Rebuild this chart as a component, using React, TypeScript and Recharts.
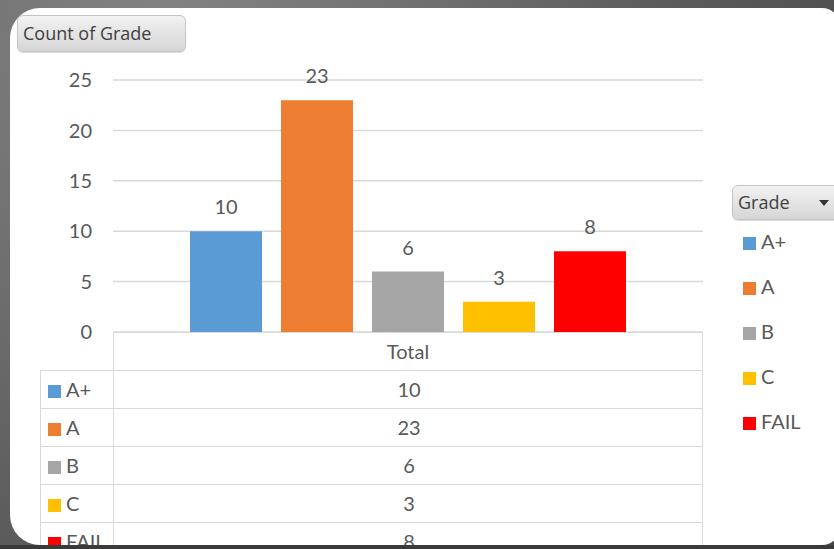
import { Bar, BarChart, CartesianGrid, LabelList, XAxis, YAxis } from "recharts";

// Pivot chart: count of grade, one "Total" category, one series per grade.
const grades = ["A+", "A", "B", "C", "FAIL"];
const counts = [10, 23, 6, 3, 8];
const gradeColors = ["#5b9bd5", "#ed7d31", "#a5a5a5", "#ffc000", "#ff0000"];
const yTicks = [0, 5, 10, 15, 20, 25];
const categoryLabel = "Total";

const keys = grades.map((_, i) => `g${i}`);
const chartData = [
  keys.reduce<Record<string, string | number>>(
    (row, k, i) => {
      row[k] = counts[i];
      return row;
    },
    { name: categoryLabel },
  ),
];

const FONT = "Lato, 'Open Sans', sans-serif";
const FS = 20;
const TEXT = "#595959";
const GRID = "#d9d9d9";

const buttonStyle: React.CSSProperties = {
  position: "absolute",
  borderRadius: 6,
  border: "1px solid #c4c4c4",
  background: "linear-gradient(#f2f2f2, #d6d6d6)",
  color: "#404040",
  fontFamily: "'Open Sans', sans-serif",
  fontSize: 18,
  boxSizing: "border-box",
  boxShadow: "0 1px 1px rgba(0,0,0,0.15)",
};

function Swatch({ color }: { color: string }) {
  return (
    <span
      style={{
        display: "inline-block",
        width: 13,
        height: 13,
        background: color,
        marginRight: 5,
        verticalAlign: "-1px",
      }}
    />
  );
}

export default function App() {
  const rowTop = 370;
  const rowH = 38;
  return (
    <div
      style={{
        position: "absolute",
        left: 0,
        top: 0,
        width: 834,
        height: 549,
        overflow: "hidden",
        background:
          "radial-gradient(circle at 20% 10%, #858585, #5c5c5c 60%, #474747)",
      }}
    >
      <div
        style={{
          position: "absolute",
          left: 10,
          top: 8,
          width: 830,
          height: 537,
          background: "#ffffff",
          borderRadius: "30px 18px 18px 30px",
        }}
      />

      <div style={{ position: "absolute", left: 0, top: 0 }}>
        <BarChart
          width={834}
          height={345}
          data={chartData}
          margin={{ top: 80, right: 131, bottom: 13, left: 0 }}
          barSize={72}
          barGap={19}
        >
          <CartesianGrid horizontal vertical={false} stroke={GRID} strokeWidth={1.5} />
          <XAxis dataKey="name" hide />
          <YAxis
            width={113}
            domain={[0, 25]}
            ticks={yTicks}
            axisLine={false}
            tickLine={false}
            tickSize={0}
            tickMargin={21}
            tick={{ fill: TEXT, fontSize: FS, fontFamily: FONT }}
          />
          {keys.map((k, i) => (
            <Bar key={k} dataKey={k} fill={gradeColors[i]} isAnimationActive={false}>
              <LabelList
                dataKey={k}
                position="top"
                offset={17}
                style={{ fill: TEXT, fontSize: FS, fontFamily: FONT }}
              />
            </Bar>
          ))}
        </BarChart>
      </div>

      {/* data table under the plot */}
      <div
        style={{
          position: "absolute",
          left: 113,
          top: 332,
          width: 590,
          height: rowH,
          borderTop: `1.5px solid ${GRID}`,
          borderLeft: `1.5px solid ${GRID}`,
          borderRight: `1.5px solid ${GRID}`,
          boxSizing: "border-box",
          textAlign: "center",
          lineHeight: `${rowH - 2}px`,
          fontFamily: FONT,
          fontSize: FS,
          color: TEXT,
        }}
      >
        {categoryLabel}
      </div>
      {grades.map((g, i) => (
        <div
          key={g}
          style={{
            position: "absolute",
            left: 40,
            top: rowTop + i * rowH,
            width: 663,
            height: rowH,
            borderTop: `1.5px solid ${GRID}`,
            borderLeft: `1.5px solid ${GRID}`,
            borderRight: `1.5px solid ${GRID}`,
            boxSizing: "border-box",
            fontFamily: FONT,
            fontSize: FS,
            color: TEXT,
            lineHeight: `${rowH - 2}px`,
          }}
        >
          <div
            style={{
              position: "absolute",
              left: 7,
              top: 0,
              width: 66,
              height: rowH,
            }}
          >
            <Swatch color={gradeColors[i]} />
            {g}
          </div>
          <div
            style={{
              position: "absolute",
              left: 72,
              top: 0,
              width: 0,
              height: rowH,
              borderLeft: `1.5px solid ${GRID}`,
            }}
          />
          <div
            style={{
              position: "absolute",
              left: 73,
              top: 0,
              width: 590,
              height: rowH,
              textAlign: "center",
            }}
          >
            {counts[i]}
          </div>
        </div>
      ))}

      {/* bottom strip of the frame over the cut-off last row */}
      <div
        style={{
          position: "absolute",
          left: 0,
          top: 545,
          width: 834,
          height: 4,
          background: "#3a3a3a",
        }}
      />

      <div style={{ ...buttonStyle, left: 17, top: 15, width: 169, height: 37, paddingLeft: 5, lineHeight: "35px" }}>
        Count of Grade
      </div>

      <div style={{ ...buttonStyle, left: 732, top: 185, width: 110, height: 35, paddingLeft: 5, lineHeight: "33px" }}>
        Grade
        <span
          style={{
            position: "absolute",
            left: 86,
            top: 14,
            width: 0,
            height: 0,
            borderLeft: "5px solid transparent",
            borderRight: "5px solid transparent",
            borderTop: "6px solid #333",
          }}
        />
      </div>

      <div
        style={{
          position: "absolute",
          left: 743,
          top: 227,
          fontFamily: FONT,
          fontSize: FS,
          color: TEXT,
        }}
      >
        {grades.map((g, i) => (
          <div key={g} style={{ height: 45, lineHeight: "28px" }}>
            <Swatch color={gradeColors[i]} />
            {g}
          </div>
        ))}
      </div>
    </div>
  );
}
